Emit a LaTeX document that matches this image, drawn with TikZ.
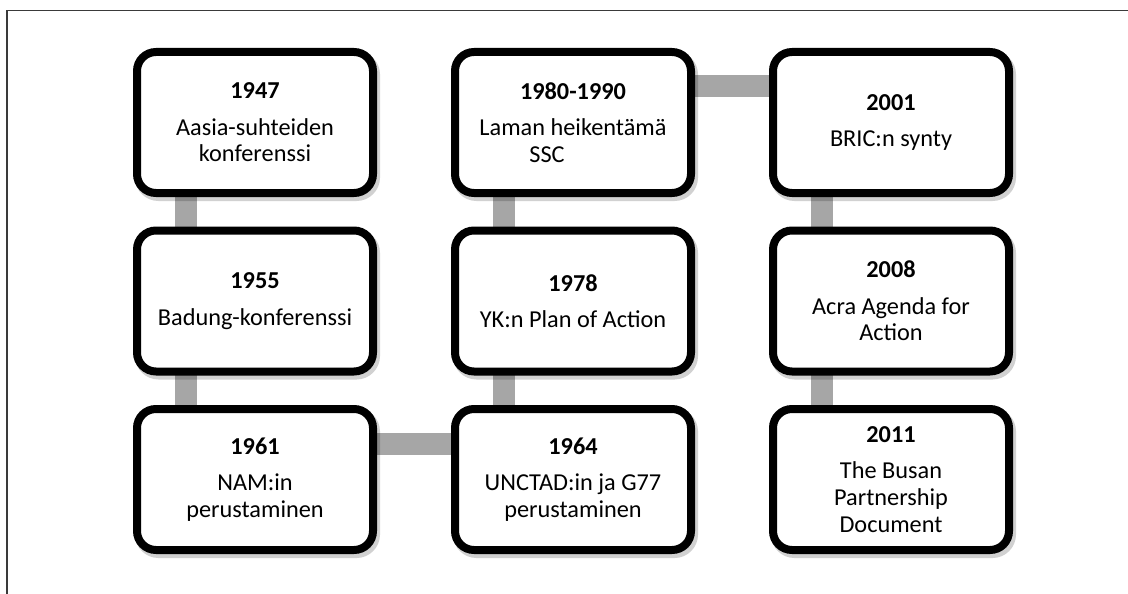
\documentclass[tikz,border=0pt]{standalone}
\usepackage{fontspec}
\setmainfont{Carlito}
\usetikzlibrary{positioning,shadows,backgrounds}

\definecolor{bargray}{HTML}{A6A6A6}
\definecolor{framegray}{HTML}{3A3A3A}

\tikzset{
  event/.style = {draw=black, line width=8pt, fill=white, rounded corners=19pt,
                  minimum width=236pt, minimum height=141pt, inner sep=0pt, outer sep=0pt,
                  align=center, font=\fontsize{24.3}{26.8}\selectfont,
                  drop shadow={shadow xshift=2.5pt, shadow yshift=-3.5pt, opacity=0.18,
                               fill=black, draw=black, line width=9pt}},
  bar/.style   = {draw=bargray, line width=22pt},
  frame/.style = {draw=framegray, line width=1.3pt}
}

\begin{document}
\begin{tikzpicture}[x=1pt, y=-1pt, node distance = 37.5pt and 82pt]
        \useasboundingbox (0,0) rectangle (1128,594);
        \draw[frame] (7,594) -- (7,10.5) -- (1128,10.5);

        % Place nodes
        \node[event] (e_1) at (255,122.5) {\textbf{1947}\\[9.5pt] Aasia-suhteiden\\ konferenssi};
        \node[event] (e_2) [below=of e_1] {\textbf{1955}\\[9.5pt] Badung-konferenssi};
        \node[event] (e_3) [below=of e_2] {\textbf{1961}\\[9.5pt] NAM:in\\ perustaminen};
        \node[event] (e_4) [right=of e_3] {\textbf{1964}\\[9.5pt] UNCTAD:in ja G77\\ perustaminen};
        \node[event] (e_5) [above=of e_4] {\textbf{1978}\\[9.5pt] YK:n Plan of Action};
        \node[event] (e_6) [above=of e_5] {\textbf{1980-1990}\\[9.5pt] Laman heikentämä\\ \hspace*{-52pt}SSC};
        \node[event] (e_7) [right=of e_6] {\textbf{2001}\\[9.5pt] BRIC:n synty};
        \node[event] (e_8) [below=of e_7] {\textbf{2008}\\[9.5pt] Acra Agenda for\\ Action};
        \node[event] (e_9) [below=of e_8] {\textbf{2011}\\[9.5pt] The Busan\\ Partnership\\ Document};

        % Draw bars
        \begin{scope}[on background layer]
          \draw[bar] ([xshift=48.5pt]e_1.south west) -- ([xshift=48.5pt]e_2.north west);
          \draw[bar] ([xshift=48.5pt]e_2.south west) -- ([xshift=48.5pt]e_3.north west);
          \draw[bar] ([yshift=-34.5pt]e_3.north east) -- ([yshift=-34.5pt]e_4.north west);
          \draw[bar] ([xshift=48.5pt]e_4.north west) -- ([xshift=48.5pt]e_5.south west);
          \draw[bar] ([xshift=48.5pt]e_5.north west) -- ([xshift=48.5pt]e_6.south west);
          \draw[bar] ([yshift=-34.5pt]e_6.north east) -- ([yshift=-34.5pt]e_7.north west);
          \draw[bar] ([xshift=48.5pt]e_7.south west) -- ([xshift=48.5pt]e_8.north west);
          \draw[bar] ([xshift=48.5pt]e_8.south west) -- ([xshift=48.5pt]e_9.north west);
        \end{scope}
    \end{tikzpicture}
\end{document}
